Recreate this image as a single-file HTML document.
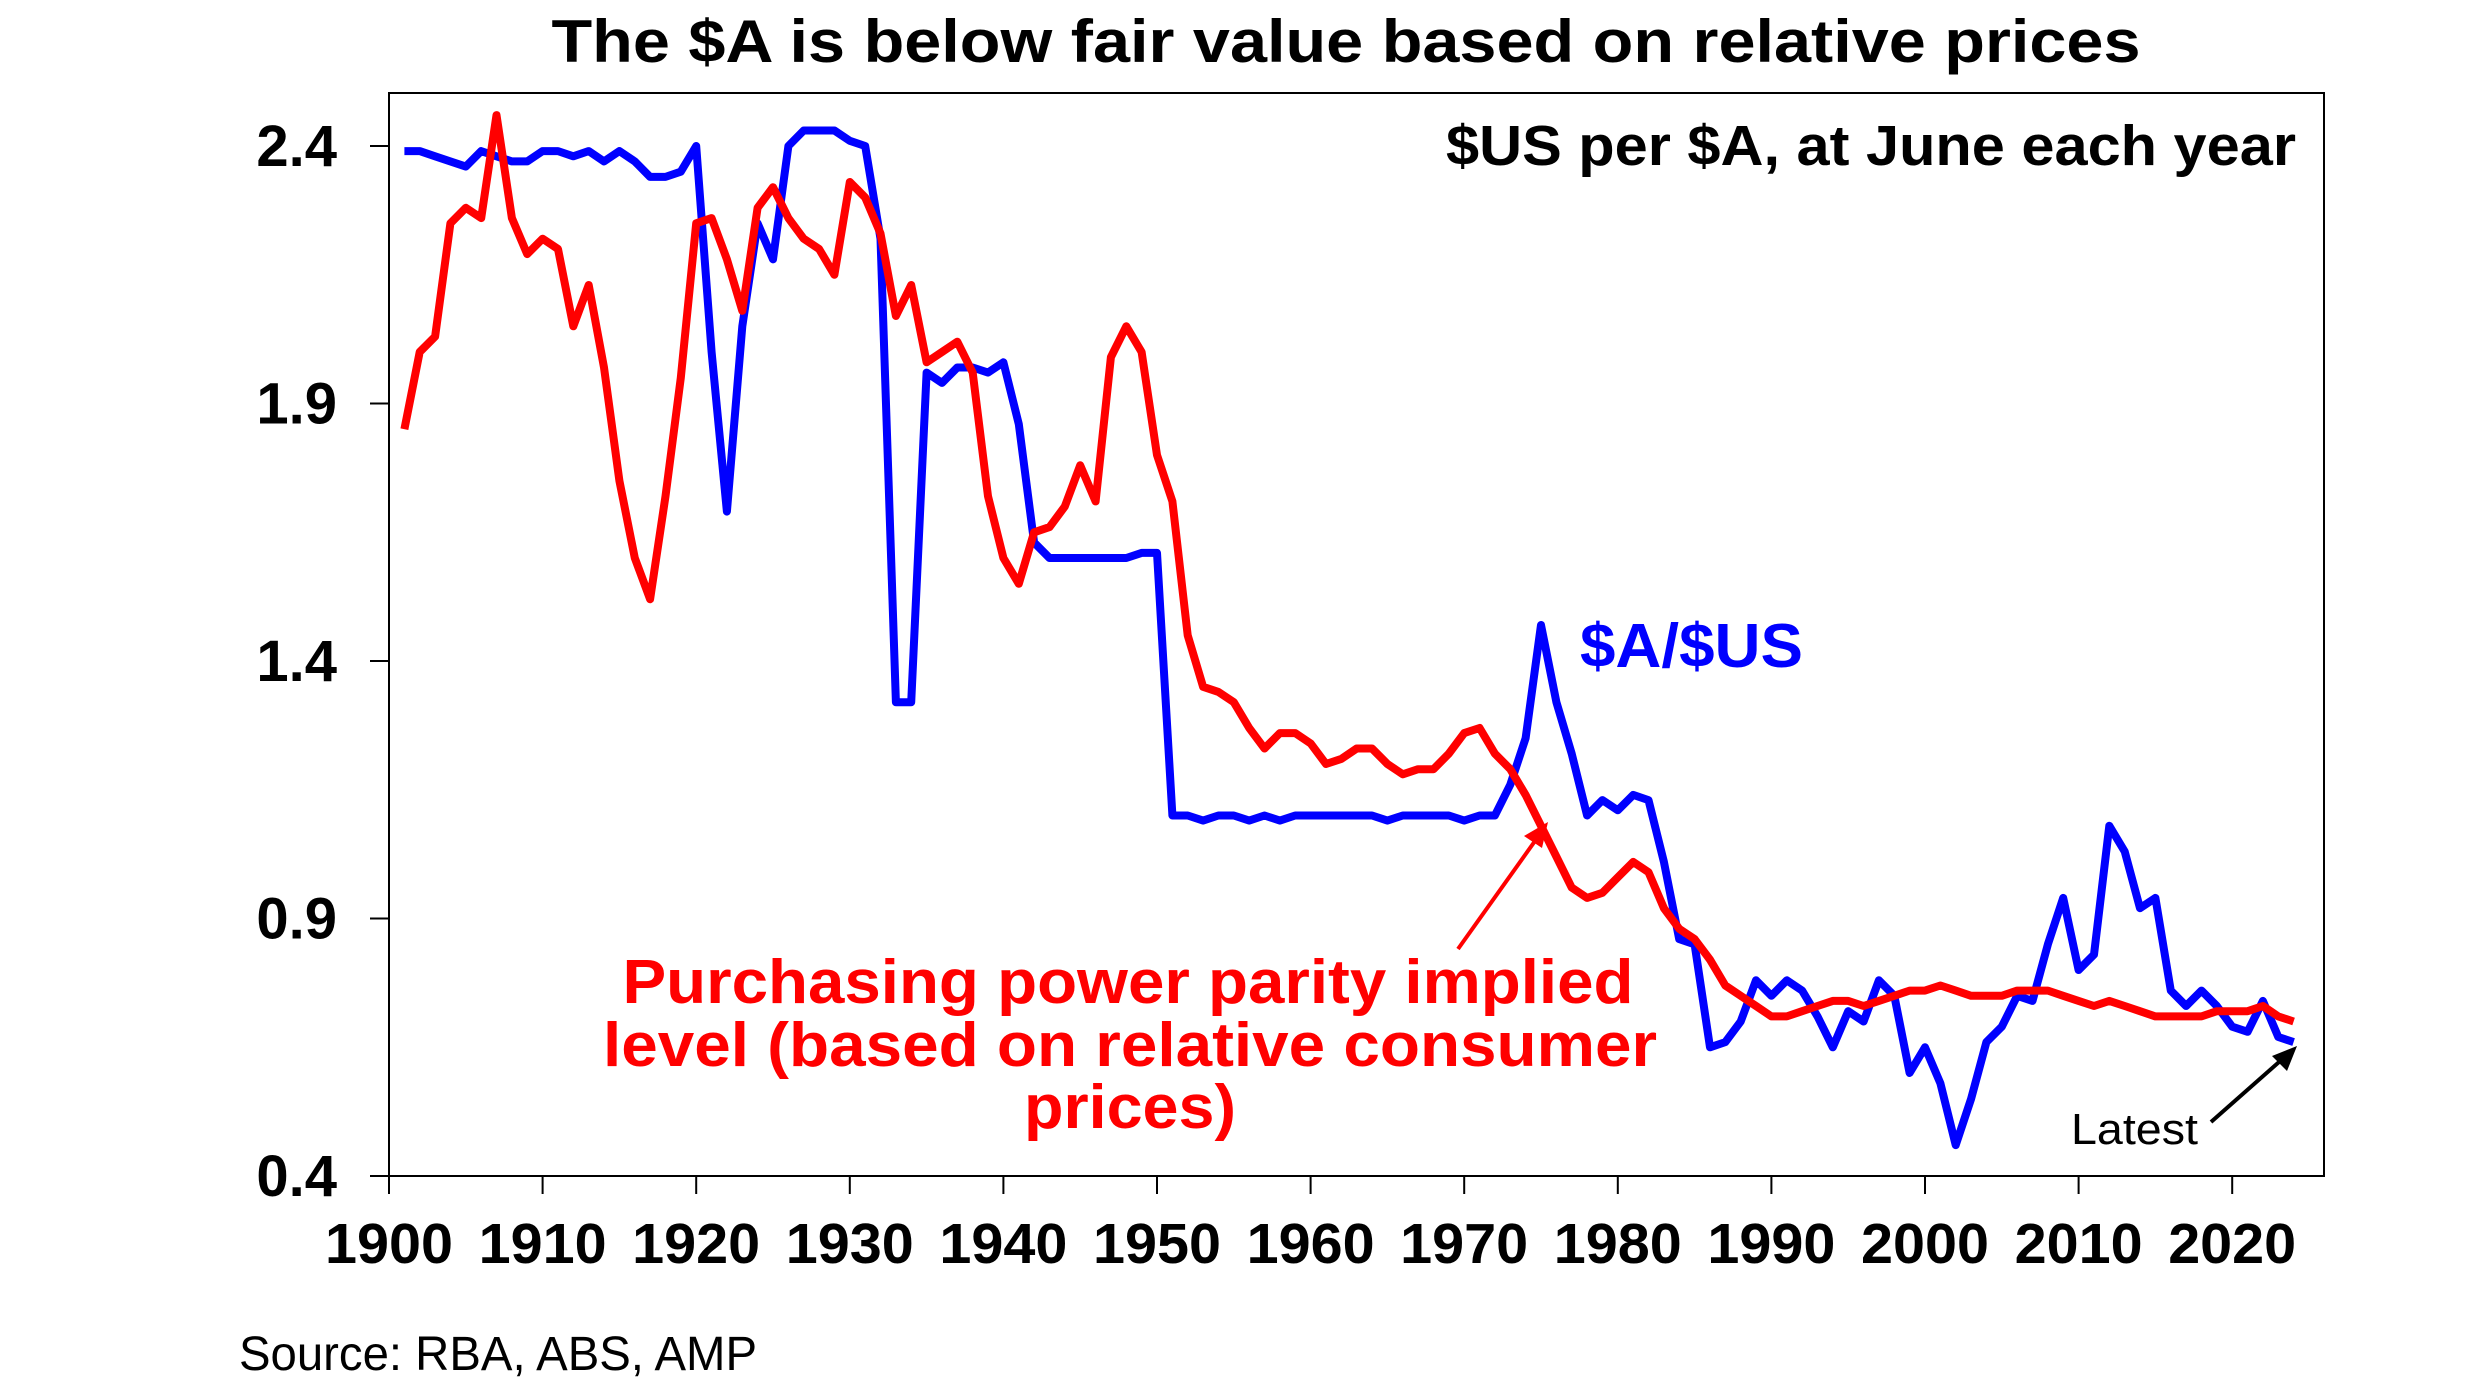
<!DOCTYPE html>
<html><head><meta charset="utf-8"><style>
html,body{margin:0;padding:0;background:#fff;}
svg{display:block;}
text{font-family:"Liberation Sans Narrow","Liberation Sans",sans-serif;}
</style></head><body>
<svg id="chart" width="2481" height="1383" viewBox="0 0 2481 1383" xmlns="http://www.w3.org/2000/svg">
<text x="1346" y="62" text-anchor="middle" font-size="60" font-weight="bold" textLength="1589" lengthAdjust="spacingAndGlyphs">The $A is below fair value based on relative prices</text>
<rect x="389" y="93" width="1935" height="1083" fill="none" stroke="#000" stroke-width="2"/>
<text x="2296" y="165" text-anchor="end" font-size="57" font-weight="bold" textLength="850" lengthAdjust="spacingAndGlyphs">$US per $A, at June each year</text>
<g id="yaxis"></g>
<g id="xaxis"></g>
<g id="series"></g>
<text x="1580" y="667" font-size="62" font-weight="bold" fill="#0000ff" textLength="223" lengthAdjust="spacingAndGlyphs">$A/$US</text>
<g fill="#ff0000" font-size="62" font-weight="bold" text-anchor="middle">
<text x="1128" y="1003" textLength="1011" lengthAdjust="spacingAndGlyphs">Purchasing power parity implied</text>
<text x="1130" y="1066" textLength="1054" lengthAdjust="spacingAndGlyphs">level (based on relative consumer</text>
<text x="1130" y="1128" textLength="212" lengthAdjust="spacingAndGlyphs">prices)</text>
</g>
<line x1="1458" y1="949" x2="1540" y2="834" stroke="#ff0000" stroke-width="4"/>
<polygon points="1548,822 1524,836 1542,848" fill="#ff0000"/>
<text x="2071" y="1144" font-size="44" textLength="127" lengthAdjust="spacingAndGlyphs">Latest</text>
<line x1="2211" y1="1122" x2="2287" y2="1055" stroke="#000" stroke-width="4"/>
<polygon points="2297,1046 2272,1056 2287,1071" fill="#000"/>
<text x="239" y="1370" font-size="48" textLength="518" lengthAdjust="spacingAndGlyphs">Source: RBA, ABS, AMP</text>
</svg>
<script>
const yTicks = [0.4, 0.9, 1.4, 1.9, 2.4];
const xTicks = [1900,1910,1920,1930,1940,1950,1960,1970,1980,1990,2000,2010,2020];
const startYear = 1901;
const audUsd = [2.39,2.39,2.38,2.37,2.36,2.39,2.38,2.37,2.37,2.39,2.39,2.38,2.39,2.37,2.39,2.37,2.34,2.34,2.35,2.40,2.00,1.69,2.05,2.25,2.18,2.40,2.43,2.43,2.43,2.41,2.40,2.22,1.32,1.32,1.96,1.94,1.97,1.97,1.96,1.98,1.86,1.63,1.60,1.60,1.60,1.60,1.60,1.60,1.61,1.61,1.10,1.10,1.09,1.10,1.10,1.09,1.10,1.09,1.10,1.10,1.10,1.10,1.10,1.10,1.09,1.10,1.10,1.10,1.10,1.09,1.10,1.10,1.16,1.25,1.47,1.32,1.22,1.10,1.13,1.11,1.14,1.13,1.01,0.86,0.85,0.65,0.66,0.70,0.78,0.75,0.78,0.76,0.71,0.65,0.72,0.70,0.78,0.75,0.60,0.65,0.58,0.46,0.55,0.66,0.69,0.75,0.74,0.85,0.94,0.80,0.83,1.08,1.03,0.92,0.94,0.76,0.73,0.76,0.73,0.69,0.68,0.74,0.67,0.66];
const ppp = [1.85,2.00,2.03,2.25,2.28,2.26,2.46,2.26,2.19,2.22,2.20,2.05,2.13,1.97,1.75,1.60,1.52,1.72,1.95,2.25,2.26,2.18,2.08,2.28,2.32,2.26,2.22,2.20,2.15,2.33,2.30,2.23,2.07,2.13,1.98,2.00,2.02,1.96,1.72,1.60,1.55,1.65,1.66,1.70,1.78,1.71,1.99,2.05,2.00,1.80,1.71,1.45,1.35,1.34,1.32,1.27,1.23,1.26,1.26,1.24,1.20,1.21,1.23,1.23,1.20,1.18,1.19,1.19,1.22,1.26,1.27,1.22,1.19,1.14,1.08,1.02,0.96,0.94,0.95,0.98,1.01,0.99,0.92,0.88,0.86,0.82,0.77,0.75,0.73,0.71,0.71,0.72,0.73,0.74,0.74,0.73,0.74,0.75,0.76,0.76,0.77,0.76,0.75,0.75,0.75,0.76,0.76,0.76,0.75,0.74,0.73,0.74,0.73,0.72,0.71,0.71,0.71,0.71,0.72,0.72,0.72,0.73,0.71,0.70];

const NS = 'http://www.w3.org/2000/svg';
function xs(yr){ return 389 + (yr-1900)*15.36; }
function ys(v){ return 1176 - (v-0.4)*515; }
function mk(tag, attrs, parent){ const e=document.createElementNS(NS,tag); for(const k in attrs) e.setAttribute(k,attrs[k]); parent.appendChild(e); return e; }

const ya=document.getElementById('yaxis');
yTicks.forEach(v=>{
  const t=mk('line',{x1:370,x2:389,y1:ys(v),y2:ys(v),stroke:'#000','stroke-width':2},ya);
  
  
  const l=mk('text',{x:337,y:ys(v)+20,'text-anchor':'end','font-size':58,'font-weight':'bold'},ya);
  l.textContent=v.toFixed(1);
  
  
});
const xa=document.getElementById('xaxis');
xTicks.forEach(yr=>{
  const t=mk('line',{x1:xs(yr),x2:xs(yr),y1:1176,y2:1194,stroke:'#000','stroke-width':2},xa);
  
  
  const l=mk('text',{x:xs(yr),y:1263,'text-anchor':'middle','font-size':57,'font-weight':'bold',textLength:128,lengthAdjust:'spacingAndGlyphs'},xa);
  l.textContent=yr;
  
  
});
const sg=document.getElementById('series');
function line(data,color,name){
  const pts=data.map((v,i)=>xs(startYear+i).toFixed(1)+','+ys(v).toFixed(1)).join(' ');
  const p=mk('polyline',{points:pts,fill:'none',stroke:color,'stroke-width':8,'stroke-linejoin':'round'},sg);
  
  
}
line(audUsd,'#0000ff','aud-usd-line');
line(ppp,'#ff0000','ppp-line');
</script>
</body></html>
